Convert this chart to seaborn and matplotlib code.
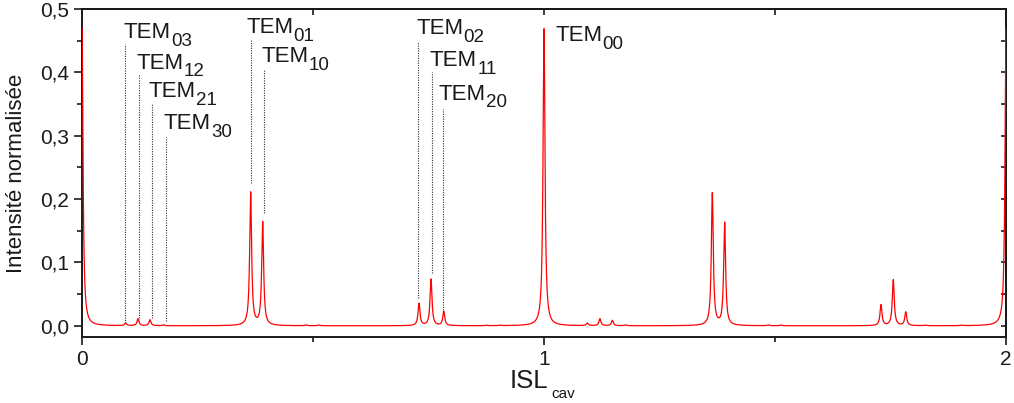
# spectre des modes transverses de la cavite
import numpy as np
import pandas as pd
import matplotlib
matplotlib.use('Agg')
import matplotlib.pyplot as plt
from matplotlib.ticker import FuncFormatter, MultipleLocator, NullFormatter
import seaborn as sns

# positions des pics (en ISL) et hauteurs
pic_pos = [0.0, 0.0944, 0.1212, 0.147, 0.176, 0.365, 0.391, 0.4855, 0.513,
           0.7294, 0.7554, 0.783, 0.876, 0.905, 1.0, 1.0937, 1.121, 1.148, 1.176,
           1.3643, 1.391, 1.4855, 1.513, 1.7294, 1.756, 1.783, 1.825, 1.904, 2.0]
pic_haut = [0.47, 0.004, 0.011, 0.0095, 0.0012, 0.21, 0.163, 0.0012, 0.0012,
            0.035, 0.0735, 0.0225, 0.0008, 0.0008, 0.469, 0.004, 0.011, 0.0085, 0.0012,
            0.209, 0.162, 0.0012, 0.0012, 0.033, 0.0725, 0.0215, 0.0008, 0.0008, 0.47]
largeur = 0.0025  # demi-largeur des pics

# etiquettes des modes
modes = ['03', '12', '21', '30', '01', '10', '02', '11', '20', '00']
label_x = [0.0894, 0.117, 0.1436, 0.176, 0.355, 0.3874, 0.723, 0.753, 0.771, 1.024]
label_y = [0.454, 0.406, 0.361, 0.310, 0.4625, 0.416, 0.461, 0.41, 0.357, 0.449]
# lignes pointillees
trait_x = [0.0938, 0.1227, 0.1522, 0.1818, 0.3658, 0.394, 0.7266, 0.757, 0.7807]
trait_haut = [0.445, 0.398, 0.352, 0.298, 0.453, 0.405, 0.448, 0.40, 0.343]
trait_bas = [0.005, 0.013, 0.013, 0.007, 0.2257, 0.1775, 0.0446, 0.084, 0.025]

# courbe : somme de lorentziennes
x = np.linspace(0, 2, 20001)
y = np.zeros_like(x)
for p, h in zip(pic_pos, pic_haut):
    y += h * largeur**2 / ((x - p)**2 + largeur**2)
data = pd.DataFrame({'ISL': x, 'I': y})

sns.set_style('ticks')
plt.rcParams['font.family'] = ['Liberation Sans', 'DejaVu Sans']
noir = '#1a1a1a'

fig = plt.figure(figsize=(10.14, 4.03), dpi=100)
ax = fig.add_axes([0.0809, 0.164, 0.9112, 0.8135])
sns.lineplot(data=data, x='ISL', y='I', color='#ff0000', linewidth=0.9, ax=ax, zorder=3)

for xx, h, b in zip(trait_x, trait_haut, trait_bas):
    ax.plot([xx, xx], [b, h], color='#333333', linestyle=(0, (1, 1.2)), linewidth=0.8)
for m, lx, ly in zip(modes, label_x, label_y):
    t = ax.text(lx, ly, 'TEM', fontsize=16, ha='left', va='baseline', color=noir)
    ax.annotate(m, xy=(1, 0), xycoords=t, xytext=(0.3, -2.0), textcoords='offset points',
                fontsize=13.5, ha='left', va='baseline', color=noir)

ax.set_xlim(0, 2)
ax.set_ylim(-0.0175, 0.5)
ax.xaxis.set_major_locator(MultipleLocator(1))
ax.xaxis.set_minor_locator(MultipleLocator(0.5))
ax.yaxis.set_major_locator(MultipleLocator(0.1))
ax.yaxis.set_minor_locator(MultipleLocator(0.05))
ax.yaxis.set_major_formatter(FuncFormatter(lambda v, pos: ('%.1f' % v).replace('.', ',')))
ax.xaxis.set_major_formatter(FuncFormatter(lambda v, pos: '%d' % round(v)))
ax.tick_params(which='both', direction='out', width=1.2, labelsize=15, colors=noir)
ax.tick_params(which='major', length=6)
ax.tick_params(which='minor', length=3.5)

# axes opposes avec graduations vers l'interieur
haut = ax.secondary_xaxis('top')
haut.xaxis.set_major_locator(MultipleLocator(1))
haut.xaxis.set_minor_locator(MultipleLocator(0.5))
haut.tick_params(which='both', direction='in', length=4, width=1.2, colors=noir)
haut.xaxis.set_major_formatter(NullFormatter())
droite = ax.secondary_yaxis('right')
droite.yaxis.set_major_locator(MultipleLocator(0.05))
droite.tick_params(which='both', direction='in', length=3.5, width=1.2, colors=noir)
droite.yaxis.set_major_formatter(NullFormatter())
for a in [ax, haut, droite]:
    for s in a.spines.values():
        s.set_linewidth(1.4)
        s.set_color(noir)
ax.spines['top'].set_visible(True)
ax.spines['right'].set_visible(True)

ax.set_xlabel('')
ax.set_ylabel('Intensité normalisée', fontsize=16, labelpad=9, color=noir)
fig.text(0.541, 0.036, 'ISL', fontsize=18.5, ha='right', va='baseline', color=noir)
fig.text(0.544, 0.013, 'cav', fontsize=11, ha='left', va='baseline', color=noir)

plt.savefig('out.png', dpi=100)
